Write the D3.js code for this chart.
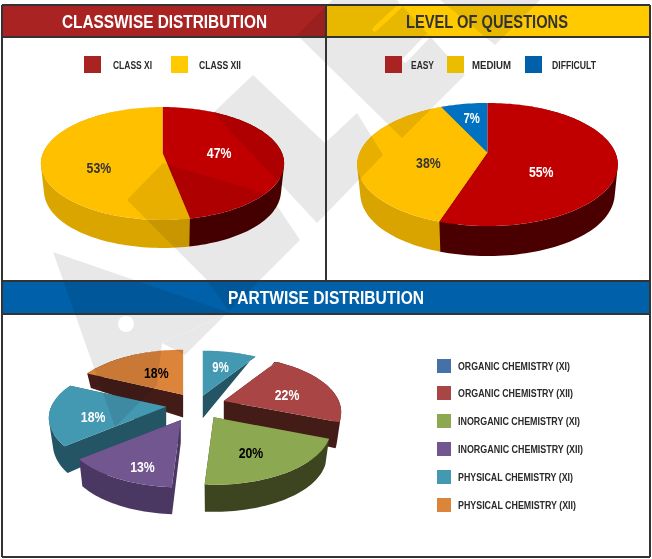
<!DOCTYPE html>
<html><head><meta charset="utf-8">
<script src="https://cdn.jsdelivr.net/npm/d3@7"></script>
<style>html,body{margin:0;padding:0;background:#fff}svg{display:block}</style></head>
<body><svg id="c" width="652" height="559"></svg>
<script>
// ---- data
const classCats = ["CLASS XI","CLASS XII"];
const classVals = [47,53];
const levelCats = ["EASY","MEDIUM","DIFFICULT"];
const levelVals = [55,38,7];
const partVals = [9,22,20,13,18,18];
const partCats = ["ORGANIC CHEMISTRY (XI)","ORGANIC CHEMISTRY (XII)","INORGANIC CHEMISTRY (XI)","INORGANIC CHEMISTRY (XII)","PHYSICAL CHEMISTRY (XI)","PHYSICAL CHEMISTRY (XII)"];
const titles = ["CLASSWISE DISTRIBUTION","LEVEL OF QUESTIONS","PARTWISE DISTRIBUTION"];
// ---- styles
const classTop=["#C00000","#FFC000"], classWall=["#4A0000","#DBA500"], classLeg=["#A92322","#FFCB00"], classInk=["#fff","#333"];
const levelTop=["#C00000","#FFC000","#0070C0"], levelWall=["#4A0000","#D9A400","#00406E"], levelLeg=["#A92322","#EBBD00","#0060A9"], levelInk=["#fff","#333","#fff"];
const partTop=["#4398B2","#A94545","#8CA850","#725690","#4398B2","#DD843B"], partWall=["#235565","#431C18","#3C4420","#4A3862","#235565","#431C18"], partLeg=["#4472A8","#A94545","#8CA850","#725690","#4398B2","#DD843B"], partInk=["#fff","#fff","#000","#fff","#fff","#000"];

const svg=d3.select("#c");
const NARROW='"Liberation Sans",Arial,sans-serif';
const lineGen=d3.line();

function pie3d(g,o){
  const arcs=d3.pie().sort(null).startAngle(0).endAngle(2*Math.PI)(o.vals);
  const sx=d3.scaleLinear().domain([-1,1]).range([o.cx-o.rx,o.cx+o.rx]);
  const sy=d3.scaleLinear().domain([-1,1]).range([o.cy-o.ry,o.cy+o.ry]);
  const persp=(u,v)=>{const w=1/(1-o.k*v);return [sx(u*w),sy(v*w)];};
  const depthF=v=>{const t=(1-v)/1.84;return Math.max(0,1-t*t*t);};
  const items=arcs.map((a,i)=>{
    const mid=(a.startAngle+a.endAngle)/2, mu=Math.sin(mid), mv=-Math.cos(mid);
    const dx=o.e[i]*o.rx*mu, dy=o.e[i]*o.ry*mv;
    const pts=[[0,0]];
    const n=Math.max(2,Math.ceil((a.endAngle-a.startAngle)/0.03));
    for(let j=0;j<=n;j++){const t=a.startAngle+(a.endAngle-a.startAngle)*j/n;pts.push([Math.sin(t),-Math.cos(t)]);}
    const top=pts.map(p=>{const q=persp(p[0],p[1]);return [q[0]+dx,q[1]+dy];});
    const bot=pts.map((p,j)=>[top[j][0]-o.sh*p[0],top[j][1]+o.depth*depthF(p[1])]);
    return {i,mid,mu,mv,dx,dy,top,bot};
  });
  items.slice().sort((a,b)=>a.mv-b.mv).forEach(s=>{
    const m=s.top.length; let d="";
    for(let j=0;j<m;j++){
      const k=(j+1)%m;
      let quad=[s.top[j],s.top[k],s.bot[k],s.bot[j]];
      if(d3.polygonArea(quad)<0) quad=quad.reverse();
      d+=lineGen(quad)+"Z";
    }
    g.append("path").attr("d",d).attr("fill",o.wall[s.i]).attr("fill-rule","nonzero");
    g.append("path").attr("d",lineGen(s.top)+"Z").attr("fill",o.top[s.i]);
  });
  return items.map(s=>{
    const r=o.labelR[s.i];
    const q=persp(r*s.mu,r*s.mv);
    return {x:q[0]+s.dx,y:q[1]+s.dy+o.labelDy[s.i],text:o.vals[s.i]+"%",ink:o.ink[s.i]};
  });
}

// header bars
const bars=[[3,5,323,32,"#A92322"],[327,5,322,32,"#FFCB00"],[3,282,646,31,"#0060A9"]];
svg.selectAll("rect.h").data(bars).enter().append("rect").attr("class","h")
  .attr("x",d=>d[0]).attr("y",d=>d[1]).attr("width",d=>d[2]).attr("height",d=>d[3]).attr("fill",d=>d[4]);

const gPies=svg.append("g");
let labels=[];
labels=labels.concat(pie3d(gPies,{vals:classVals,cx:162.5,cy:153,rx:119.5,ry:54.5,k:.186,depth:28,sh:3,e:[0,0],top:classTop,wall:classWall,ink:classInk,labelR:[.48,.53],labelDy:[2,12]}));
labels=labels.concat(pie3d(gPies,{vals:levelVals,cx:487.5,cy:153,rx:128,ry:59.4,k:.187,depth:30,sh:3,e:[0,0,0],top:levelTop,wall:levelWall,ink:levelInk,labelR:[.42,.46,.63],labelDy:[15,8,-2]}));
labels=labels.concat(pie3d(gPies,{vals:partVals,cx:197,cy:405,rx:115,ry:54,k:.2,depth:27,sh:4,e:[.18,.245,.27,.31,.27,.225],top:partTop,wall:partWall,ink:partInk,labelR:[.62,.6,.55,.65,.63,.47],labelDy:[0,4,8,12,6,-2]}));

// watermark: a single masked shape multiplied over everything below the texts
const wm=[
 [[213,113],[253,75],[325,143],[357,113],[383,155],[317,223],[277,180]],
 [[127,200],[163,163],[270,195],[300,240],[185,355],[162,343],[230,313],[207,280]],
 [[53,252],[230,313],[162,343],[157,385],[115,427]],
 [[297,35],[332,0],[397,0],[465,75],[402,138]],
 [[440,0],[540,0],[495,45]]
];
const wmCuts=[[[375,29],[400,6]],[[405,60],[427,37]]];
const mask=svg.append("defs").append("mask").attr("id","wmMask").attr("maskUnits","userSpaceOnUse")
  .attr("x",0).attr("y",0).attr("width",652).attr("height",559);
wm.forEach(p=>mask.append("path").attr("d",lineGen(p)+"Z").attr("fill","#fff"));
wmCuts.forEach(p=>mask.append("path").attr("d",lineGen(p)).attr("fill","none").attr("stroke","#000").attr("stroke-width",5).attr("stroke-linecap","round"));
mask.append("circle").attr("cx",126).attr("cy",324).attr("r",8).attr("fill","#000");
svg.append("rect").attr("width",652).attr("height",559).attr("fill","#e8e8e8").attr("mask","url(#wmMask)").style("mix-blend-mode","multiply");

// frame
const ink="#333";
const lines=[[2,5,650,5],[2,557,650,557],[2,5,2,557],[650,5,650,557],[326,5,326,281],[2,37,650,37],[2,281,650,281],[2,314,650,314]];
svg.selectAll("line.f").data(lines).enter().append("line").attr("class","f")
 .attr("x1",d=>d[0]).attr("y1",d=>d[1]).attr("x2",d=>d[2]).attr("y2",d=>d[3]).attr("stroke",ink).attr("stroke-width",2);

// titles
const fit=(sel,w)=>sel.attr("textLength",w).attr("lengthAdjust","spacingAndGlyphs");
[[62,27.5,205,"#fff"],[406,27.5,162,"#333"],[228,303.5,196,"#fff"]].forEach((t,i)=>{
  fit(svg.append("text").attr("x",t[0]).attr("y",t[1]).attr("fill",t[3]).attr("font-family",NARROW)
    .attr("font-weight",700).attr("font-size",18).text(titles[i]),t[2]);
});
// labels
svg.selectAll("text.l").data(labels).enter().append("text").attr("class","l")
  .attr("x",d=>d.x).attr("y",d=>d.y).attr("text-anchor","middle").attr("dominant-baseline","central")
  .attr("font-family",NARROW).attr("font-weight",700).attr("font-size",14).attr("fill",d=>d.ink).text(d=>d.text)
  .attr("textLength",d=>d.text.length*8.2).attr("lengthAdjust","spacingAndGlyphs");
// legends
function legend(cats,cols,sw,size,tx,y,widths,fs){
  cats.forEach((c,i)=>{
    const yy=Array.isArray(y)?y[i]:y;
    svg.append("rect").attr("x",sw[i]).attr("y",yy).attr("width",size).attr("height",size).attr("fill",cols[i]);
    fit(svg.append("text").attr("x",tx[i]).attr("y",yy+size/2+4).attr("fill","#2a2a2a").attr("font-family",NARROW)
      .attr("font-weight",700).attr("font-size",fs).text(c),widths[i]);
  });
}
legend(classCats,classLeg,[84,171],17,[113,199],56,[39,42],11.5);
legend(levelCats,levelLeg,[385,447,525],17,[411,472,552],56,[23,39,44],11.5);
legend(partCats,partLeg,[437,437,437,437,437,437],14,[458,458,458,458,458,458],[359,386,414,442,470,498],[112,115,122,125,115,118],11);
</script></body></html>
